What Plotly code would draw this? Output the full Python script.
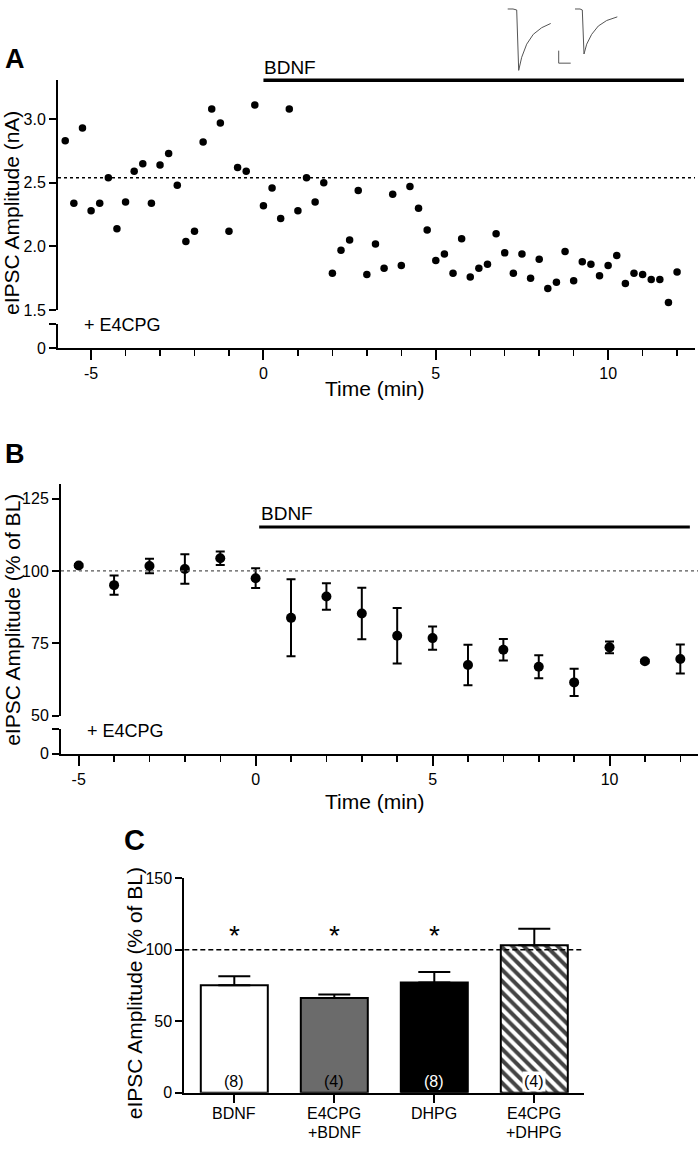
import plotly.graph_objects as go

W, H = 699, 1149
FONT = "Liberation Sans, Arial, Helvetica, sans-serif"

# ---------------- Panel A data ----------------
a_time = [-5.75, -5.5, -5.25, -5.0, -4.75, -4.5, -4.25, -4.0, -3.75, -3.5, -3.25, -3.0,
          -2.75, -2.5, -2.25, -2.0, -1.75, -1.5, -1.25, -1.0, -0.75, -0.5, -0.25, 0.0,
          0.25, 0.5, 0.75, 1.0, 1.25, 1.5, 1.75, 2.0, 2.25, 2.5, 2.75, 3.0,
          3.25, 3.5, 3.75, 4.0, 4.25, 4.5, 4.75, 5.0, 5.25, 5.5, 5.75, 6.0,
          6.25, 6.5, 6.75, 7.0, 7.25, 7.5, 7.75, 8.0, 8.25, 8.5, 8.75, 9.0,
          9.25, 9.5, 9.75, 10.0, 10.25, 10.5, 10.75, 11.0, 11.25, 11.5, 11.75, 12.0]
a_amp = [2.83, 2.34, 2.93, 2.28, 2.34, 2.54, 2.14, 2.35, 2.59, 2.65, 2.34, 2.64,
         2.73, 2.48, 2.04, 2.12, 2.82, 3.08, 2.97, 2.12, 2.62, 2.59, 3.11, 2.32,
         2.46, 2.22, 3.08, 2.28, 2.54, 2.35, 2.50, 1.79, 1.97, 2.05, 2.44, 1.78,
         2.02, 1.83, 2.41, 1.85, 2.47, 2.30, 2.13, 1.89, 1.94, 1.79, 2.06, 1.76,
         1.83, 1.86, 2.10, 1.95, 1.79, 1.94, 1.75, 1.90, 1.67, 1.72, 1.96, 1.73,
         1.88, 1.86, 1.77, 1.85, 1.93, 1.71, 1.79, 1.78, 1.74, 1.74, 1.56, 1.80]
a_baseline = 2.54
a_bdnf_span = [0.0, 12.2]

# x tick labels (time, min)
t_ticks = [-5, 0, 5, 10]
t_labels = ["-5", "0", "5", "10"]

# inset traces (arbitrary units: time, current)
ins1_t = [507.7, 513.0, 516.7, 518.7, 521.7, 526.7, 533.3, 541.7, 550.7]
ins1_i = [-1.0, -1.0, -2.0, -63.3, -50.0, -36.7, -26.7, -20.0, -15.7]
ins2_t = [575.0, 580.0, 582.3, 584.0, 586.7, 591.7, 598.3, 606.7, 617.3]
ins2_i = [-1.0, -1.0, -2.0, -46.7, -36.7, -26.7, -18.3, -12.7, -9.0]
scale_t = [558.7, 558.7, 570.7]
scale_i = [-43.3, -56.0, -56.0]

# ---------------- Panel B data ----------------
b_time = [-5, -4, -3, -2, -1, 0, 1, 2, 3, 4, 5, 6, 7, 8, 9, 10, 11, 12]
b_mean = [101.9, 95.1, 101.7, 100.7, 104.4, 97.5, 83.8, 91.2, 85.3, 77.6,
          76.8, 67.5, 72.8, 66.9, 61.5, 73.6, 68.8, 69.6]
b_sem = [0.5, 3.3, 2.5, 5.1, 2.3, 3.4, 13.3, 4.6, 8.9, 9.6,
         4.0, 7.0, 3.7, 4.0, 4.7, 2.0, 0.5, 5.0]
b_bdnf_span = [0.1, 12.27]

# ---------------- Panel C data ----------------
c_cats = ["BDNF", "E4CPG<br>+BDNF", "DHPG", "E4CPG<br>+DHPG"]
c_mean = [75.2, 66.3, 77.1, 103.2]
c_sem = [6.2, 2.3, 7.3, 11.5]
c_n = ["(8)", "(4)", "(8)", "(4)"]
c_sig = ["*", "*", "*", ""]
c_colors = ["white", "#6b6b6b", "black", "white"]
c_patterns = ["", "", "", "\\"]
c_ncolors = ["black", "black", "white", "black"]


def px(x):
    return x / W


def py(y):
    return 1 - y / H


fig = go.Figure()

# Panel A scatter
fig.add_trace(go.Scatter(x=a_time, y=a_amp, mode="markers", xaxis="x", yaxis="y",
                         marker=dict(color="black", size=7.5), cliponaxis=False,
                         showlegend=False))

# empty traces so the broken-axis lower segments exist as subplots
for xa, ya in [("x", "y2"), ("x2", "y4")]:
    fig.add_trace(go.Scatter(x=[], y=[], xaxis=xa, yaxis=ya, mode="markers",
                             showlegend=False, hoverinfo="skip"))

# Inset traces
for tx, ty in [(ins1_t, ins1_i), (ins2_t, ins2_i), (scale_t, scale_i)]:
    fig.add_trace(go.Scatter(x=tx, y=ty, mode="lines", xaxis="x4", yaxis="y6",
                             line=dict(color="#555555", width=1), showlegend=False,
                             cliponaxis=False))

# Panel B
fig.add_trace(go.Scatter(x=b_time, y=b_mean, mode="markers", xaxis="x2", yaxis="y3",
                         marker=dict(color="black", size=10),
                         error_y=dict(type="data", array=b_sem, color="black",
                                      thickness=2, width=4.5),
                         cliponaxis=False, showlegend=False))

# Panel C
fig.add_trace(go.Bar(x=c_cats, y=c_mean, xaxis="x3", yaxis="y5", width=0.67,
                     marker=dict(color=c_colors, line=dict(color="black", width=2),
                                 pattern=dict(shape=c_patterns, fgcolor="#000000",
                                              bgcolor="white", fgopacity=1,
                                              size=8, solidity=0.5)),
                     error_y=dict(type="data", array=c_sem, arrayminus=[0] * 4,
                                  symmetric=False, color="black", thickness=2, width=16),
                     showlegend=False))

axis_common = dict(showline=True, linecolor="black", linewidth=2, ticks="outside",
                   tickcolor="black", tickwidth=2, showgrid=False, zeroline=False,
                   tickfont=dict(family=FONT, size=16, color="black"))

xmin = dict(ticks="outside", tickmode="linear", dtick=1, tick0=0, ticklen=6,
            tickwidth=1.5, tickcolor="black")

fig.update_layout(
    width=W, height=H, autosize=False,
    margin=dict(l=0, r=0, t=0, b=0),
    paper_bgcolor="white", plot_bgcolor="white",
    font=dict(family=FONT, color="black"),
    # Panel A
    xaxis=dict(domain=[px(58), px(695)], range=[-5.96, 12.52], anchor="y2",
               tickvals=t_ticks, ticktext=t_labels, ticklen=10, minor=xmin, **axis_common),
    yaxis=dict(domain=[py(306.7), py(72.7)], range=[1.5, 3.31], anchor="x",
               tickvals=[1.5, 2.0, 2.5, 3.0], ticktext=["1.5", "2.0", "2.5", "3.0"],
               ticklen=7, **axis_common),
    yaxis2=dict(domain=[py(345), py(320.7)], range=[0, 1], anchor="x",
                tickvals=[0, 1], ticktext=["0", ""], ticklen=7, **axis_common),
    # Panel B
    xaxis2=dict(domain=[px(61), px(698)], range=[-5.5, 12.5], anchor="y4",
                tickvals=t_ticks, ticktext=t_labels, ticklen=10, minor=xmin, **axis_common),
    yaxis3=dict(domain=[py(718.3), py(483.3)], range=[50, 130], anchor="x2",
                tickvals=[50, 75, 100, 125], ticklen=7, **axis_common),
    yaxis4=dict(domain=[py(756.7), py(731.7)], range=[0, 1], anchor="x2",
                tickvals=[0, 1], ticktext=["0", ""], ticklen=7, **axis_common),
    # Panel C
    xaxis3=dict(domain=[px(184.3), px(584.3)], range=[-0.5, 3.5], anchor="y5",
                type="category", ticklen=8, showticklabels=False, **axis_common),
    yaxis5=dict(domain=[py(1101), py(883.3)], range=[0, 150], anchor="x3",
                tickvals=[0, 50, 100, 150], ticklen=7, **axis_common),
    # Inset
    xaxis4=dict(domain=[px(500), px(625)], range=[500, 625], anchor="y6", visible=False),
    yaxis6=dict(domain=[py(66), 1.0], range=[-66, 0], anchor="x4", visible=False),
)

shapes = [
    # baselines
    dict(type="line", xref="x domain", yref="y", x0=0, x1=1, y0=a_baseline, y1=a_baseline,
         line=dict(color="black", width=1.5, dash="dot")),
    dict(type="line", xref="x2 domain", yref="y3", x0=0, x1=1, y0=100, y1=100,
         line=dict(color="#555555", width=1.2, dash="dot")),
    dict(type="line", xref="x3 domain", yref="y5", x0=0, x1=1, y0=100, y1=100,
         line=dict(color="black", width=1.5, dash="5px,3px")),
    # BDNF bars
    dict(type="line", xref="x", yref="paper", x0=a_bdnf_span[0], x1=a_bdnf_span[1],
         y0=py(73.3), y1=py(73.3), line=dict(color="black", width=3.5)),
    dict(type="line", xref="x2", yref="paper", x0=b_bdnf_span[0], x1=b_bdnf_span[1],
         y0=py(526.7), y1=py(526.7), line=dict(color="black", width=3)),
]
fig.update_layout(shapes=shapes)


def ann(text, x, y, size, xanchor="center", yanchor="middle", angle=0, bold=False, **kw):
    t = f"<b>{text}</b>" if bold else text
    fig.add_annotation(text=t, x=px(x), y=py(y), xref="paper", yref="paper",
                       xanchor=xanchor, yanchor=yanchor, textangle=angle, showarrow=False,
                       font=dict(family=FONT, size=size, color=kw.pop("color", "black")), **kw)


# panel letters
ann("A", 15, 52, 27, bold=True)
ann("B", 15, 453, 27, bold=True)
ann("C", 134, 844, 29, bold=True)

# axis titles
ann("eIPSC Amplitude (nA)", 12, 208, 21, angle=-90)
ann("Time (min)", 375, 386, 21)
ann("eIPSC Amplitude (% of BL)", 13, 621, 21, angle=-90)
ann("Time (min)", 375, 805, 21)
ann("eIPSC Amplitude (% of BL)", 134, 1000, 21, angle=-90)

# treatment labels
ann("BDNF", 262, 60, 19, xanchor="left")
ann("BDNF", 259, 513, 19, xanchor="left")
ann("+ E4CPG", 122, 322, 18)
ann("+ E4CPG", 125, 734, 18)

# panel C bar labels, category labels
for cat, n, sig, nc in zip(c_cats, c_n, c_sig, c_ncolors):
    fig.add_annotation(text=n, x=cat, y=8, xref="x3", yref="y5", showarrow=False,
                       font=dict(family=FONT, size=16, color=nc),
                       bgcolor="white" if cat == c_cats[3] else None, borderpad=1)
    if sig:
        fig.add_annotation(text=sig, x=cat, y=110, xref="x3", yref="y5", showarrow=False,
                           font=dict(family=FONT, size=28, color="black"))
    for k, line in enumerate(cat.split("<br>")):
        fig.add_annotation(text=line, x=cat, xref="x3", yref="paper", y=py(1122 + 19 * k),
                           yanchor="middle", showarrow=False,
                           font=dict(family=FONT, size=16, color="black"))

fig.write_html("out.html", config={"displayModeBar": False, "staticPlot": True},
               post_script="document.body.style.margin='0px';"
                           "document.body.style.overflow='hidden';")
